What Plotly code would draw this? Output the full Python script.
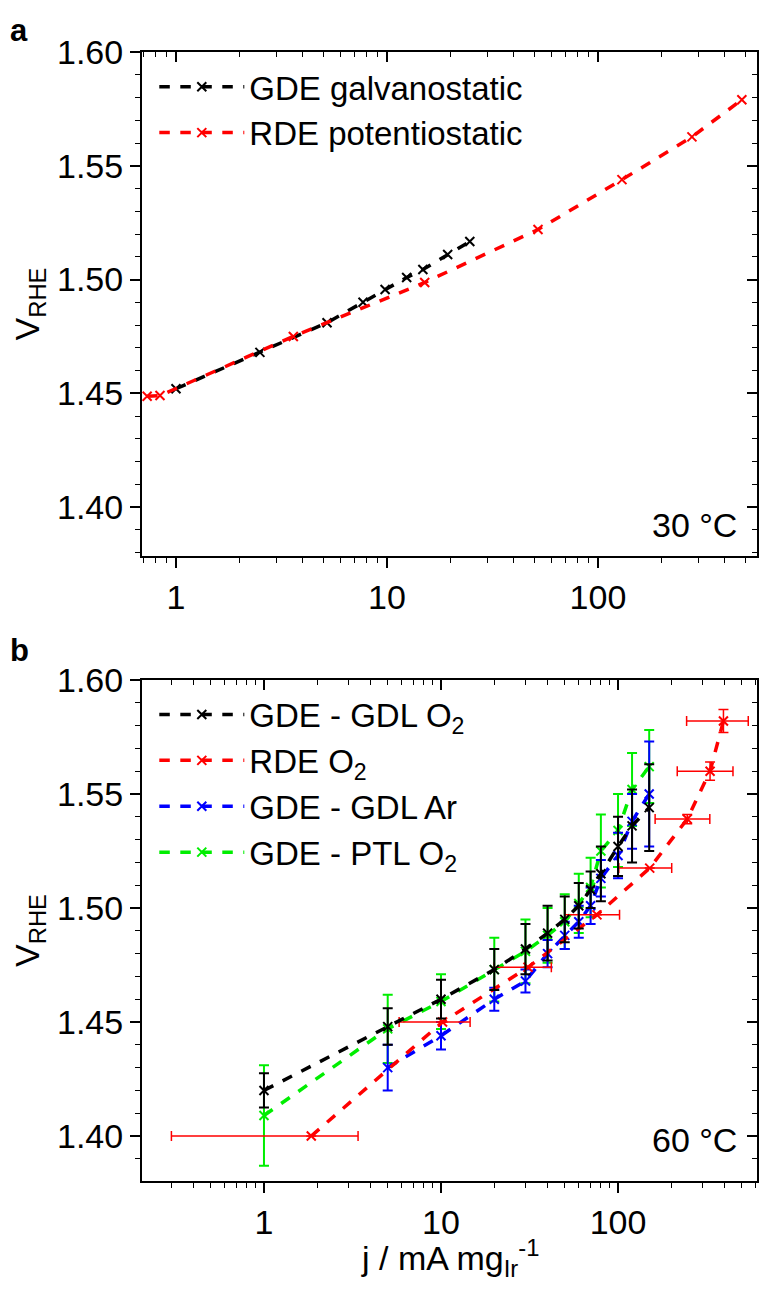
import plotly.graph_objects as go

# ---------------- Panel a data (30 °C) ----------------
a_gde_x = [1, 2.5, 5.2, 7.7, 9.8, 12.4, 14.8, 19.4, 24.7]
a_gde_y = [1.452, 1.468, 1.481, 1.490, 1.4956, 1.5009, 1.5044, 1.511, 1.5167]
a_rde_x = [0.73, 0.84, 3.6, 15.1, 52, 130, 279, 481]
a_rde_y = [1.4487, 1.449, 1.475, 1.4987, 1.522, 1.5439, 1.5627, 1.579]

# ---------------- Panel b data (60 °C) ----------------
b_x = [1, 5, 10, 20, 30, 40, 50, 60, 70, 80, 100, 120, 150]
b_gdl_o2_y = [1.420, 1.448, 1.460, 1.473, 1.482, 1.489, 1.495, 1.501, 1.508, 1.515, 1.527, 1.536, 1.544]
b_gdl_o2_err = [0.0075, 0.008, 0.0085, 0.009, 0.011, 0.012, 0.010, 0.010, 0.008, 0.012, 0.013, 0.016, 0.019]
b_ptl_o2_y = [1.409, 1.447, 1.459, 1.473, 1.481, 1.488, 1.494, 1.502, 1.509, 1.525, 1.534, 1.552, 1.562]
b_ptl_o2_err = [0.022, 0.015, 0.012, 0.014, 0.014, 0.012, 0.012, 0.013, 0.013, 0.016, 0.016, 0.016, 0.016]
b_ar_x = [5, 10, 20, 30, 40, 50, 60, 70, 80, 100, 120, 150]
b_ar_y = [1.430, 1.444, 1.460, 1.468, 1.480, 1.488, 1.494, 1.501, 1.513, 1.523, 1.538, 1.550]
b_ar_err = [0.010, 0.006, 0.005, 0.005, 0.006, 0.006, 0.007, 0.008, 0.008, 0.010, 0.012, 0.023]
b_rde_x = [1.85, 10.2, 31, 76, 151, 246, 331, 394]
b_rde_y = [1.400, 1.450, 1.474, 1.497, 1.5175, 1.539, 1.560, 1.582]
b_rde_xerr = [1.55, 4.4, 11, 26, 50, 84, 115, 150]
b_rde_yerr = [0, 0, 0, 0, 0, 0.002, 0.004, 0.005]

FONT = "Liberation Sans, Arial, sans-serif"
FS = 34
BLACK = "#000000"
RED = "#ff0000"
BLUE = "#0000ff"
GREEN = "#00ee00"

fig = go.Figure()

def mk(color):
    return dict(symbol="x-thin-open", size=9, color=color, line=dict(color=color, width=2))

LW = 3.5

# Panel a
fig.add_trace(go.Scatter(x=a_gde_x, y=a_gde_y, mode="lines+markers", name="GDE galvanostatic",
                         line=dict(color=BLACK, width=LW, dash="dash"), marker=mk(BLACK),
                         xaxis="x", yaxis="y", legend="legend"))
fig.add_trace(go.Scatter(x=a_rde_x, y=a_rde_y, mode="lines+markers", name="RDE potentiostatic",
                         line=dict(color=RED, width=LW, dash="dash"), marker=mk(RED),
                         xaxis="x", yaxis="y", legend="legend"))

# Panel b (draw order: green, blue, red, black)
fig.add_trace(go.Scatter(x=b_x, y=b_ptl_o2_y, mode="lines+markers", name="GDE - PTL O<sub>2</sub>",
                         line=dict(color=GREEN, width=LW, dash="dash"), marker=mk(GREEN),
                         error_y=dict(type="data", array=b_ptl_o2_err, color=GREEN, thickness=2, width=5),
                         xaxis="x2", yaxis="y2", legend="legend2", legendrank=4))
fig.add_trace(go.Scatter(x=b_ar_x, y=b_ar_y, mode="lines+markers", name="GDE - GDL Ar",
                         line=dict(color=BLUE, width=LW, dash="dash"), marker=mk(BLUE),
                         error_y=dict(type="data", array=b_ar_err, color=BLUE, thickness=2, width=5),
                         xaxis="x2", yaxis="y2", legend="legend2", legendrank=3))
fig.add_trace(go.Scatter(x=b_rde_x, y=b_rde_y, mode="lines+markers", name="RDE O<sub>2</sub>",
                         line=dict(color=RED, width=LW, dash="dash"), marker=mk(RED),
                         error_x=dict(type="data", array=b_rde_xerr, color=RED, thickness=1.5, width=5),
                         error_y=dict(type="data", array=b_rde_yerr, color=RED, thickness=1.5, width=5),
                         xaxis="x2", yaxis="y2", legend="legend2", legendrank=2))
fig.add_trace(go.Scatter(x=b_x, y=b_gdl_o2_y, mode="lines+markers", name="GDE - GDL O<sub>2</sub>",
                         line=dict(color=BLACK, width=LW, dash="dash"), marker=mk(BLACK),
                         error_y=dict(type="data", array=b_gdl_o2_err, color=BLACK, thickness=2, width=5),
                         xaxis="x2", yaxis="y2", legend="legend2", legendrank=1))

# dummy traces for mirrored (inside) tick axes
fig.add_trace(go.Scatter(x=[None], y=[None], xaxis="x3", yaxis="y3", showlegend=False, hoverinfo="skip"))
fig.add_trace(go.Scatter(x=[None], y=[None], xaxis="x4", yaxis="y4", showlegend=False, hoverinfo="skip"))

xr_a = [-0.161, 2.754]
xr_b = [-0.689, 2.785]
yr_a = [1.3785, 1.60]
yr_b = [1.3803, 1.60]
dom_a = [0.5536, 1.0]
dom_b = [0.0, 0.4438]

def xax(rng, anchor, **kw):
    d = dict(type="log", range=rng, anchor=anchor, dtick=1, ticks="outside", ticklen=10, tickwidth=1.5,
             tickcolor="black", showline=True, linecolor="black", linewidth=2, showgrid=False, zeroline=False,
             automargin=False,
             minor=dict(dtick="D1", ticks="outside", ticklen=5, tickwidth=1.2, tickcolor="black", showgrid=False),
             tickfont=dict(family=FONT, size=FS, color="black"))
    d.update(kw)
    return d

def yax(rng, anchor, dom, **kw):
    d = dict(range=rng, anchor=anchor, domain=dom, dtick=0.05, tick0=1.4, tickformat=".2f", ticks="outside",
             ticklen=10, tickwidth=1.5, tickcolor="black", showline=True, linecolor="black", linewidth=2,
             showgrid=False, zeroline=False, automargin=False,
             minor=dict(dtick=0.01, ticks="outside", ticklen=5, tickwidth=1.2, tickcolor="black", showgrid=False),
             tickfont=dict(family=FONT, size=FS, color="black"))
    d.update(kw)
    return d

# page body adds an 8 px offset; figure is sized to compensate
fig.update_layout(
    width=759, height=1291,
    margin=dict(l=134, r=10, t=44, b=118, autoexpand=False),
    paper_bgcolor="white", plot_bgcolor="white",
    font=dict(family=FONT, size=FS, color="black"),
    xaxis=xax(xr_a, "y", domain=[0, 1]),
    yaxis=yax(yr_a, "x", dom_a, title=dict(text="V<sub>RHE</sub>", font=dict(family=FONT, size=FS), standoff=14)),
    xaxis2=xax(xr_b, "y2", domain=[0, 1]),
    yaxis2=yax(yr_b, "x2", dom_b, title=dict(text="V<sub>RHE</sub>", font=dict(family=FONT, size=FS), standoff=14)),
    xaxis3=xax(xr_a, "y3", overlaying="x", side="top", ticks="inside", showticklabels=False,
               minor=dict(dtick="D1", ticks="inside", ticklen=5, tickwidth=1.2, tickcolor="black", showgrid=False)),
    yaxis3=yax(yr_a, "x3", dom_a, overlaying="y", side="right", ticks="inside", showticklabels=False,
               minor=dict(dtick=0.01, ticks="inside", ticklen=5, tickwidth=1.2, tickcolor="black", showgrid=False)),
    xaxis4=xax(xr_b, "y4", overlaying="x2", side="top", ticks="inside", showticklabels=False,
               minor=dict(dtick="D1", ticks="inside", ticklen=5, tickwidth=1.2, tickcolor="black", showgrid=False)),
    yaxis4=yax(yr_b, "x4", dom_b, overlaying="y2", side="right", ticks="inside", showticklabels=False,
               minor=dict(dtick=0.01, ticks="inside", ticklen=5, tickwidth=1.2, tickcolor="black", showgrid=False)),
    legend=dict(x=0.02, y=0.994, xanchor="left", yanchor="top", bgcolor="rgba(0,0,0,0)",
                font=dict(family=FONT, size=33), tracegroupgap=0, itemwidth=85),
    legend2=dict(x=0.02, y=0.438, xanchor="left", yanchor="top", bgcolor="rgba(0,0,0,0)",
                 font=dict(family=FONT, size=33), tracegroupgap=0, itemwidth=85, traceorder="normal"),
    annotations=[
        dict(text="<b>a</b>", x=-0.218, y=1.036, xref="paper", yref="paper", showarrow=False,
             xanchor="left", yanchor="top", font=dict(family=FONT, size=31)),
        dict(text="<b>b</b>", x=-0.218, y=0.487, xref="paper", yref="paper", showarrow=False,
             xanchor="left", yanchor="top", font=dict(family=FONT, size=31)),
        dict(text="30 °C", x=0.97, y=0.581, xref="paper", yref="paper", showarrow=False,
             xanchor="right", yanchor="middle", font=dict(family=FONT, size=FS)),
        dict(text="60 °C", x=0.97, y=0.036, xref="paper", yref="paper", showarrow=False,
             xanchor="right", yanchor="middle", font=dict(family=FONT, size=FS)),
        dict(text="j / mA mg<sub>Ir</sub><sup>-1</sup>", x=0.5, y=-0.068, xref="paper", yref="paper",
             showarrow=False, xanchor="center", yanchor="middle", font=dict(family=FONT, size=FS)),
    ],
)

fig.write_html("out.html")
